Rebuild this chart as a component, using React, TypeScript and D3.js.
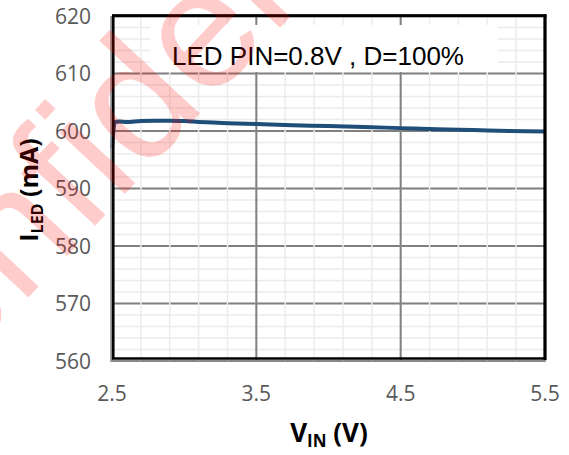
import * as d3 from 'd3';

const vin = [2.5, 2.52, 2.55, 2.6, 2.7, 2.8, 2.9, 3.0, 3.1, 3.2, 3.3, 3.5, 3.75, 4.0, 4.25, 4.5, 4.75, 5.0, 5.25, 5.5];
const iled = [597.0, 601.55, 601.65, 601.58, 601.75, 601.8, 601.8, 601.72, 601.58, 601.46, 601.35, 601.2, 601.0, 600.85, 600.7, 600.5, 600.32, 600.18, 600.0, 599.92];

const xTicks = [2.5, 3.5, 4.5, 5.5];
const yTicks = [560, 570, 580, 590, 600, 610, 620];
const xMinorStep = 0.2;
const yMinorStep = 2;

const note = 'LED PIN=0.8V , D=100%';
const watermark = 'Confidential';

const W = 569;
const H = 455;
const left = 112;
const right = 545;
const top = 16;
const bottom = 361;

export default function App() {
  const x = d3.scaleLinear().domain([2.5, 5.5]).range([left, right]);
  const y = d3.scaleLinear().domain([560, 620]).range([bottom, top]);

  const xMinor = d3.range(0, Math.round(3 / xMinorStep) + 1).map((i) => 2.5 + i * xMinorStep);
  const yMinor = d3.range(0, Math.round(60 / yMinorStep) + 1).map((i) => 560 + i * yMinorStep);

  const pts = vin.map((v, i) => [v, iled[i]] as [number, number]);
  const line = d3
    .line<[number, number]>()
    .x((d) => x(d[0]))
    .y((d) => y(d[1]))
    .curve(d3.curveMonotoneX);

  const tickFont = "'Open Sans', sans-serif";

  return (
    <svg width={W} height={H} style={{ position: 'absolute', left: 0, top: 0, background: '#fff' }}>
      {/* minor horizontal grid */}
      {yMinor.map((v) => (
        <line key={'ym' + v} x1={left} x2={right} y1={y(v)} y2={y(v)} stroke="#ebebeb" strokeWidth={1.5} />
      ))}
      {/* major horizontal grid */}
      {yTicks.map((v) => (
        <line key={'yM' + v} x1={left} x2={right} y1={y(v)} y2={y(v)} stroke="#808080" strokeWidth={2} />
      ))}
      {/* minor vertical grid drawn over horizontal majors */}
      {xMinor.map((v) => (
        <line key={'xm' + v} x1={x(v)} x2={x(v)} y1={top} y2={bottom} stroke="#ececec" strokeWidth={1.5} />
      ))}
      {xTicks.map((v) => (
        <line key={'xM' + v} x1={x(v)} x2={x(v)} y1={top} y2={bottom} stroke="#808080" strokeWidth={2} />
      ))}

      {/* annotation box */}
      <rect x={150} y={25} width={348} height={47} fill="#fff" />
      <text x={318} y={65} textAnchor="middle" fontFamily="'Liberation Sans', Arial, sans-serif" fontSize={26} fill="#000">
        {note}
      </text>

      <path d={line(pts) ?? ''} fill="none" stroke="#1f4e79" strokeWidth={4} strokeLinejoin="round" />

      {/* plot border */}
      <line x1={111} x2={111} y1={top} y2={bottom + 1} stroke="#8c8c8c" strokeWidth={1.5} />
      <line x1={111} x2={right + 1} y1={bottom} y2={bottom} stroke="#8c8c8c" strokeWidth={1.5} />
      <rect x={113.3} y={15.8} width={right - 113.3} height={358.5 - 15.8} fill="none" stroke="#000" strokeWidth={2.5} />
      <line x1={right} x2={right} y1={14.5} y2={360} stroke="#000" strokeWidth={3} />
      <line x1={112} x2={right + 1.5} y1={15.8} y2={15.8} stroke="#000" strokeWidth={3} />

      {/* y ticks */}
      {yTicks.map((v) => (
        <text key={'yt' + v} x={91} y={y(v) + 7.5} textAnchor="end" fontFamily={tickFont} fontSize={21} fill="#595959">
          {v}
        </text>
      ))}
      {/* x ticks */}
      {xTicks.map((v) => (
        <text key={'xt' + v} x={x(v)} y={400.5} textAnchor="middle" fontFamily={tickFont} fontSize={21} fill="#595959">
          {v.toFixed(1)}
        </text>
      ))}

      {/* axis titles */}
      <text x={329} y={442} textAnchor="middle" fontFamily={tickFont} fontWeight="bold" fontSize={26} fill="#000">
        V<tspan fontSize={17} dy={5}>IN</tspan>
        <tspan dy={-5}> (V)</tspan>
      </text>
      <text
        transform="translate(38,190) rotate(-90)"
        textAnchor="middle"
        fontFamily={tickFont}
        fontWeight="bold"
        fontSize={25}
        fill="#000"
      >
        I<tspan fontSize={16} dy={5}>LED</tspan>
        <tspan dy={-5}> (mA)</tspan>
      </text>

      {/* watermark */}
      <text
        transform="translate(178.5,136.5) rotate(-47)"
        textAnchor="middle"
        fontFamily="'Liberation Sans', Arial, sans-serif"
        fontSize={170}
        fill="#ff0000"
        fillOpacity={0.2}
      >
        {watermark}
      </text>
    </svg>
  );
}
